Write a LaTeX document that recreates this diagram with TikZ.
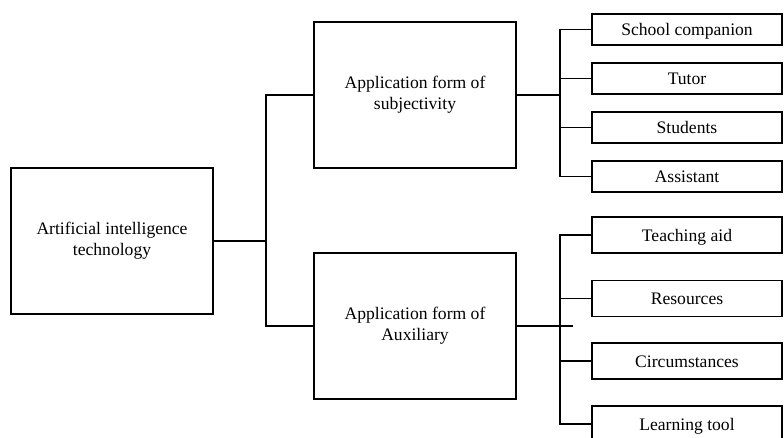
\documentclass[tikz,border=0pt]{standalone}
\usepackage{fontspec}
\setmainfont{Liberation Serif}
\begin{document}
\begin{tikzpicture}[x=1pt,y=-1pt,
  every node/.style={font=\fontsize{17.6}{21}\selectfont},
  bigbox/.style={draw, line width=1.1pt, minimum width=202pt, minimum height=146pt, align=center, inner sep=0pt},
  leaf/.style={draw, line width=1.1pt, minimum width=190pt, inner sep=0pt, text height=14pt, text depth=1.5pt},
  topleaf/.style={leaf, minimum height=31pt},
  lowleaf/.style={leaf, minimum height=36pt},
  link/.style={draw, line width=1.1pt}]
\useasboundingbox (0,0) rectangle (784,437);
\clip (0,0) rectangle (784,437);

% main boxes
\node[bigbox] (ai) at (112,241) {Artificial intelligence\\technology};
\node[bigbox] (subj) at (415,95) {Application form of\\subjectivity};
\node[bigbox] (aux) at (415,326) {Application form of\\Auxiliary};

% leaves of the subjectivity branch
\node[topleaf] (s1) at (687,29.5) {School companion};
\node[topleaf] (s2) at (687,78.5) {Tutor};
\node[topleaf] (s3) at (687,127.5) {Students};
\node[topleaf] (s4) at (687,176.5) {Assistant};

% leaves of the auxiliary branch
\node[lowleaf] (a1) at (687,235) {Teaching aid};
\node[lowleaf] (a2) at (687,298.5) {Resources};
\node[lowleaf] (a3) at (687,361) {Circumstances};
\node[lowleaf] (a4) at (687,424) {Learning tool};

% junction points
\coordinate (jA) at (266,241);
\coordinate (jS) at (560,95);
\coordinate (jX) at (560,326);
\coordinate (stub) at (573,326);

% trunk
\path[link] (ai.east) -- (jA);
\path[link] (subj.west) -| (jA) |- (aux.west);

% subjectivity fan
\path[link] (subj.east) -- (jS);
\path[link] (s1.west) -| (jS) |- (s4.west);
\path[link] (s2.west) -- (s2.west -| jS);
\path[link] (s3.west) -- (s3.west -| jS);

% auxiliary fan
\path[link] (aux.east) -- (stub);
\path[link] (a1.west) -| (jX) |- (a4.west);
\path[link] (a2.west) -- (a2.west -| jX);
\path[link] (a3.west) -- (a3.west -| jX);
\end{tikzpicture}
\end{document}
